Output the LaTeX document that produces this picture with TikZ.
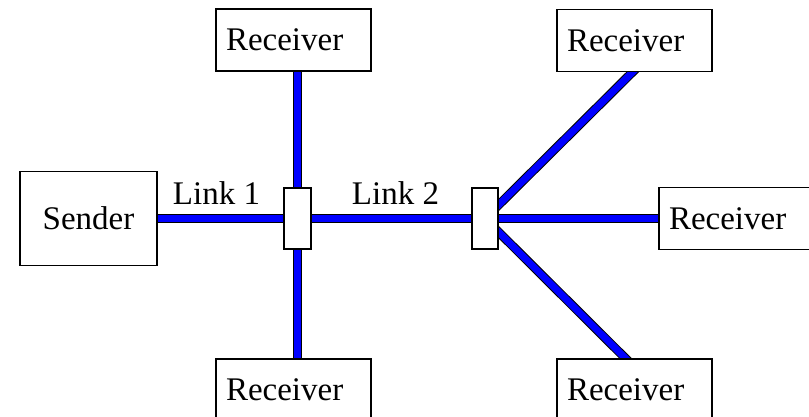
\documentclass[tikz,border=0pt]{standalone}
\usepackage{fontspec}
\setmainfont{Liberation Serif}
\usetikzlibrary{backgrounds,calc}
\tikzset{
  txt/.style={font=\rmfamily\fontsize{16.5}{20}\selectfont},
  box/.style={txt, draw=black, line width=0.7pt, fill=white, inner sep=0pt},
  recv/.style={box, minimum width=77.5pt, minimum height=31pt, text width=67.5pt, align=left},
  switchbox/.style={draw=black, line width=0.7pt, fill=white, minimum width=13.5pt, minimum height=30.5pt, inner sep=0pt},
  link/.style={draw=black, line width=0.5pt, double=blue, double distance=3.5pt},
  lbl/.style={txt, anchor=base, inner sep=0pt}
}
\begin{document}
\begin{tikzpicture}[x=0.5pt, y=-0.5pt]
  \useasboundingbox (0,0) rectangle (809,417);
  \node[box, minimum width=68.5pt, minimum height=47pt] (snd) at (88.5,218.5) {Sender};
  \node[recv] (rt) at (293.5,40) {Receiver};
  \node[recv] (rb) at (293.5,390) {Receiver};
  \node[recv] (rtr) at (634.5,40.5) {Receiver};
  \node[recv] (rr) at (736.5,218.5) {Receiver};
  \node[recv] (brr) at (634.5,390) {Receiver};
  \node[switchbox] (sw1) at (297.5,218.5) {};
  \node[switchbox, minimum width=13pt] (sw2) at (485,218.5) {};
  \node[lbl] (l1) at (216.5,205) {Link 1};
  \node[lbl] (l2) at (395.5,205) {Link 2};
  \begin{scope}[on background layer]
    \draw[link] (snd.center) -- (sw1.center);
    \draw[link] (sw1.center) -- (sw1.center |- rt.center);
    \draw[link] (sw1.center) -- (sw1.center |- rb.center);
    \draw[link] (sw1.center) -- (sw2.center);
    \draw[link] (sw2.center) -- (rr.center);
    \draw[link] (sw2.center) -- ([xshift=2.75pt,yshift=3.75pt]rtr.south);
    \draw[link] (sw2.center) -- ([xshift=-0.5pt,yshift=-4pt]brr.north);
  \end{scope}
\end{tikzpicture}
\end{document}
